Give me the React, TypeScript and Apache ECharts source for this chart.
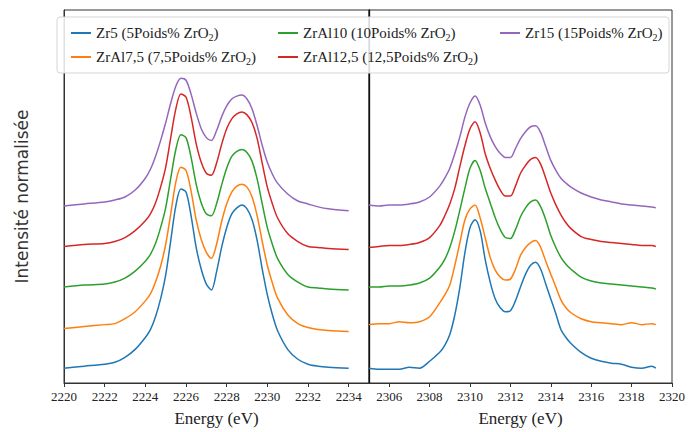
import React, { useEffect, useRef } from "react";
import * as echarts from "echarts";

const seriesNames = [
  "Zr5 (5Poids% ZrO2)",
  "ZrAl7,5 (7,5Poids% ZrO2)",
  "ZrAl10 (10Poids% ZrO2)",
  "ZrAl12,5 (12,5Poids% ZrO2)",
  "Zr15 (15Poids% ZrO2)",
];
const colors = ["#1f77b4", "#ff7f0e", "#2ca02c", "#d62728", "#9467bd"];

const ticksLeft = [2220, 2222, 2224, 2226, 2228, 2230, 2232, 2234];
const ticksRight = [2306, 2308, 2310, 2312, 2314, 2316, 2318, 2320];

const energyLeft = [2220, 2221, 2222, 2222.5, 2223, 2223.5, 2224, 2224.25, 2224.5, 2224.75, 2225, 2225.25, 2225.5, 2225.75, 2226, 2226.25, 2226.5, 2226.75, 2227, 2227.25, 2227.5, 2227.75, 2228, 2228.25, 2228.5, 2228.75, 2229, 2229.25, 2229.5, 2229.75, 2230, 2230.25, 2230.5, 2231, 2231.5, 2232, 2232.5, 2233, 2234];
const zr5Left = [0.15, 0.17, 0.19, 0.21, 0.26, 0.34, 0.46, 0.54, 0.67, 0.85, 1.09, 1.44, 1.79, 1.96, 1.93, 1.69, 1.37, 1.15, 1.00, 0.94, 1.12, 1.37, 1.57, 1.71, 1.77, 1.80, 1.76, 1.65, 1.44, 1.15, 0.89, 0.69, 0.53, 0.34, 0.24, 0.19, 0.17, 0.16, 0.15];
const zrAl75Left = [0.55, 0.57, 0.59, 0.60, 0.65, 0.72, 0.83, 0.90, 1.02, 1.18, 1.40, 1.71, 2.03, 2.18, 2.15, 1.94, 1.65, 1.45, 1.32, 1.26, 1.40, 1.63, 1.81, 1.93, 1.99, 2.01, 1.98, 1.88, 1.69, 1.43, 1.19, 1.01, 0.86, 0.69, 0.60, 0.56, 0.54, 0.53, 0.52];
const zrAl10Left = [0.97, 0.99, 1.00, 1.02, 1.06, 1.13, 1.23, 1.30, 1.41, 1.57, 1.77, 2.07, 2.36, 2.51, 2.48, 2.28, 2.01, 1.82, 1.71, 1.69, 1.81, 2.00, 2.17, 2.29, 2.34, 2.36, 2.33, 2.24, 2.06, 1.81, 1.57, 1.40, 1.26, 1.10, 1.02, 0.97, 0.96, 0.95, 0.94];
const zrAl125Left = [1.38, 1.40, 1.41, 1.43, 1.47, 1.54, 1.64, 1.71, 1.82, 1.98, 2.18, 2.48, 2.77, 2.92, 2.89, 2.69, 2.42, 2.23, 2.12, 2.10, 2.22, 2.41, 2.57, 2.67, 2.72, 2.74, 2.71, 2.63, 2.47, 2.22, 1.98, 1.81, 1.67, 1.51, 1.43, 1.38, 1.37, 1.36, 1.35];
const zr15Left = [1.79, 1.81, 1.83, 1.85, 1.88, 1.95, 2.07, 2.16, 2.29, 2.45, 2.63, 2.83, 3.00, 3.08, 3.06, 2.92, 2.73, 2.57, 2.48, 2.45, 2.55, 2.69, 2.80, 2.87, 2.90, 2.91, 2.87, 2.77, 2.60, 2.40, 2.23, 2.11, 2.02, 1.91, 1.84, 1.81, 1.78, 1.76, 1.74];

const energyRight = [2305, 2305.5, 2306, 2306.5, 2307, 2307.5, 2308, 2308.5, 2308.75, 2309, 2309.25, 2309.5, 2309.75, 2310, 2310.25, 2310.5, 2310.75, 2311, 2311.25, 2311.5, 2311.75, 2312, 2312.25, 2312.5, 2312.75, 2313, 2313.25, 2313.5, 2313.75, 2314, 2314.25, 2314.5, 2314.75, 2315, 2315.5, 2316, 2316.5, 2317, 2317.5, 2318, 2318.5, 2319, 2319.2];
const zr5Right = [0.15, 0.14, 0.14, 0.14, 0.16, 0.15, 0.22, 0.31, 0.38, 0.49, 0.69, 0.97, 1.32, 1.57, 1.65, 1.54, 1.25, 1.02, 0.85, 0.76, 0.72, 0.73, 0.83, 0.97, 1.10, 1.19, 1.22, 1.15, 1.00, 0.85, 0.70, 0.54, 0.46, 0.40, 0.31, 0.25, 0.22, 0.20, 0.19, 0.16, 0.15, 0.17, 0.15];
const zrAl75Right = [0.59, 0.60, 0.60, 0.62, 0.61, 0.62, 0.67, 0.81, 0.89, 0.99, 1.19, 1.42, 1.65, 1.76, 1.80, 1.67, 1.47, 1.27, 1.14, 1.07, 1.04, 1.05, 1.15, 1.29, 1.37, 1.42, 1.44, 1.37, 1.23, 1.10, 0.97, 0.84, 0.76, 0.71, 0.65, 0.62, 0.61, 0.60, 0.59, 0.61, 0.59, 0.60, 0.59];
const zrAl10Right = [0.97, 0.97, 0.98, 0.98, 0.99, 1.01, 1.06, 1.17, 1.25, 1.37, 1.54, 1.75, 1.97, 2.17, 2.25, 2.15, 1.97, 1.82, 1.67, 1.55, 1.47, 1.46, 1.55, 1.68, 1.77, 1.83, 1.85, 1.78, 1.65, 1.49, 1.37, 1.27, 1.20, 1.15, 1.07, 1.03, 1.01, 1.00, 0.99, 0.98, 0.97, 0.96, 0.95];
const zrAl125Right = [1.37, 1.38, 1.39, 1.39, 1.40, 1.42, 1.47, 1.59, 1.69, 1.81, 1.97, 2.19, 2.40, 2.57, 2.64, 2.53, 2.32, 2.17, 2.05, 1.95, 1.89, 1.89, 1.99, 2.12, 2.20, 2.26, 2.28, 2.21, 2.07, 1.92, 1.80, 1.70, 1.62, 1.56, 1.48, 1.45, 1.43, 1.42, 1.41, 1.40, 1.39, 1.39, 1.38];
const zr15Right = [1.80, 1.79, 1.80, 1.80, 1.81, 1.83, 1.88, 1.99, 2.07, 2.17, 2.32, 2.49, 2.69, 2.83, 2.90, 2.81, 2.63, 2.49, 2.39, 2.32, 2.28, 2.28, 2.37, 2.47, 2.54, 2.59, 2.60, 2.53, 2.39, 2.25, 2.15, 2.07, 2.02, 1.98, 1.92, 1.88, 1.85, 1.83, 1.81, 1.80, 1.79, 1.78, 1.77];

const leftSets = [zr5Left, zrAl75Left, zrAl10Left, zrAl125Left, zr15Left];
const rightSets = [zr5Right, zrAl75Right, zrAl10Right, zrAl125Right, zr15Right];

const SERIF = "Liberation Serif";
const SANS = "DejaVu Sans";
const AXIS_COLOR = "#333";
const TEXT_COLOR = "#222";

export default function App() {
  const ref = useRef<HTMLDivElement>(null);
  useEffect(() => {
    if (!ref.current) return;
    const chart = echarts.init(ref.current, null, { renderer: "svg" });

    const makeSeries = (sets: number[][], xs: number[], axis: number) =>
      sets.map((vals, i) => ({
        type: "line",
        name: seriesNames[i],
        xAxisIndex: axis,
        yAxisIndex: axis,
        data: xs.map((x, j) => [x, vals[j]]),
        showSymbol: false,
        symbol: "none",
        smooth: 0.3,
        color: colors[i],
        lineStyle: { width: 1.5, color: colors[i] },
        z: 2,
      }));

    const legendBase = {
      orient: "horizontal",
      icon: "rect",
      itemWidth: 20,
      itemHeight: 2,
      padding: 0,
      itemGap: 0,
      selectedMode: false,
      formatter: (n: string) => n.replace("ZrO2", "ZrO{sub|2}"),
      textStyle: {
        fontFamily: SERIF,
        fontSize: 15,
        color: TEXT_COLOR,
        lineHeight: 18,
        rich: {
          sub: { fontFamily: SERIF, fontSize: 10, lineHeight: 11, verticalAlign: "bottom" },
        },
      },
    };
    const legendPos = [
      [71, 24],
      [71, 48],
      [278, 24],
      [278, 48],
      [500, 24],
    ];

    const xAxisCommon = {
      type: "value",
      splitLine: { show: false },
      axisLine: { show: true, lineStyle: { color: AXIS_COLOR, width: 1 } },
      name: "Energy (eV)",
      nameLocation: "middle",
      nameGap: 27,
      nameTextStyle: { fontFamily: SERIF, fontSize: 17, color: TEXT_COLOR },
    };
    const labelCommon = {
      margin: 7,
      fontFamily: SERIF,
      fontSize: 13,
      color: TEXT_COLOR,
      formatter: (v: number) => String(v),
    };

    const option = {
      animation: false,
      backgroundColor: "#ffffff",
      grid: [
        { left: 64, top: 10, width: 305, height: 377, show: true, borderColor: AXIS_COLOR, borderWidth: 1, backgroundColor: "transparent" },
        { left: 369, top: 10, width: 305, height: 377, show: true, borderColor: AXIS_COLOR, borderWidth: 1, backgroundColor: "transparent" },
      ],
      xAxis: [
        {
          ...xAxisCommon,
          gridIndex: 0,
          min: 2220,
          max: 2235,
          interval: 2,
          axisTick: { show: true, length: 4, customValues: ticksLeft, lineStyle: { color: AXIS_COLOR } },
          axisLabel: { ...labelCommon, customValues: ticksLeft },
        },
        {
          ...xAxisCommon,
          gridIndex: 1,
          min: 2305,
          max: 2320,
          axisTick: { show: true, length: 4, customValues: ticksRight, lineStyle: { color: AXIS_COLOR } },
          axisLabel: { ...labelCommon, customValues: ticksRight },
        },
      ],
      yAxis: [
        {
          type: "value",
          gridIndex: 0,
          min: 0,
          max: 3.77,
          axisLabel: { show: false },
          axisTick: { show: false },
          splitLine: { show: false },
          axisLine: { show: true, lineStyle: { color: AXIS_COLOR } },
          name: "Intensité normalisée",
          nameLocation: "middle",
          nameGap: 34,
          nameTextStyle: { fontFamily: SANS, fontSize: 17, color: "#333" },
        },
        {
          type: "value",
          gridIndex: 1,
          min: 0,
          max: 3.77,
          axisLabel: { show: false },
          axisTick: { show: false },
          splitLine: { show: false },
          axisLine: { show: true, lineStyle: { color: "#111", width: 1.3 } },
        },
      ],
      legend: legendPos.map((p, i) => ({
        ...legendBase,
        data: [seriesNames[i]],
        left: p[0],
        top: p[1],
      })),
      graphic: [
        {
          type: "rect",
          shape: { x: 57, y: 17, width: 612, height: 56, r: 3 },
          style: { fill: "rgba(255,255,255,0.85)", stroke: "#d5d5d5", lineWidth: 1 },
          z: 3,
        },
      ],
      series: [...makeSeries(leftSets, energyLeft, 0), ...makeSeries(rightSets, energyRight, 1)],
    };

    chart.setOption(option as any);
    return () => chart.dispose();
  }, []);
  return <div ref={ref} style={{ position: "fixed", left: 0, top: 0, width: 688, height: 432 }} />;
}
